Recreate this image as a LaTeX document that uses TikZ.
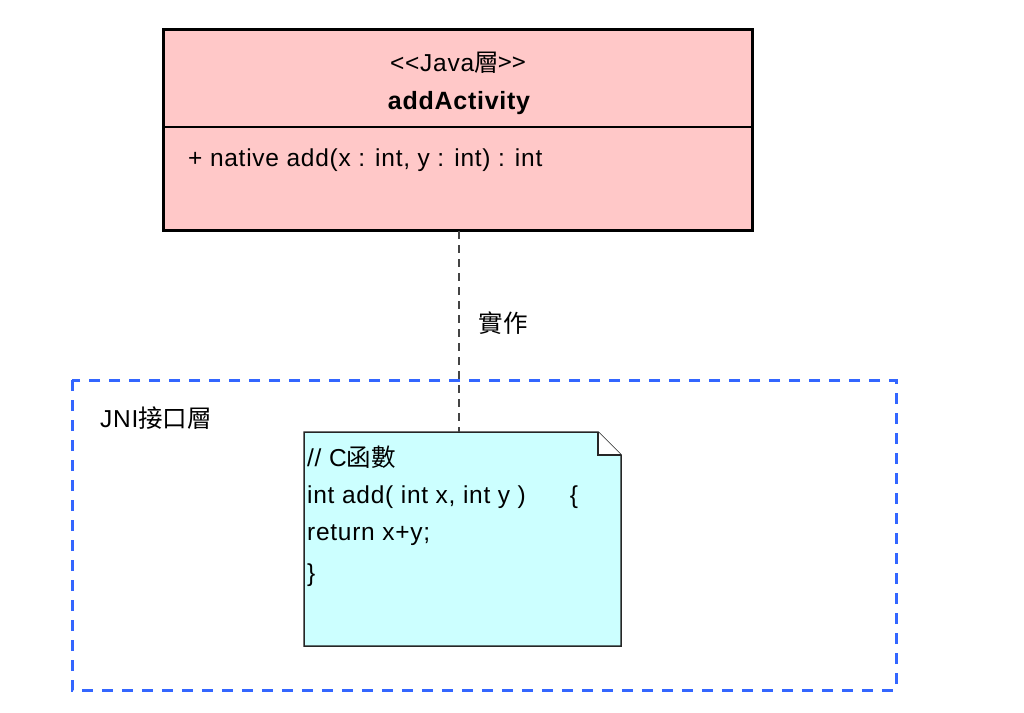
\documentclass[tikz,border=0pt]{standalone}
\usepackage{fontspec}
\setmainfont{Liberation Sans}[LetterSpace=3]
\newfontfamily\cjk{Noto Sans CJK TC}
\definecolor{classpink}{HTML}{FFC8C8}
\definecolor{notecyan}{HTML}{CCFFFF}
\definecolor{pkgblue}{HTML}{3366FF}
\definecolor{depgray}{HTML}{444444}
\tikzset{
  txt/.style={inner sep=0pt, font=\fontsize{24.5}{28}\selectfont},
  classbox/.style={draw=black, line width=3pt, fill=classpink},
  notebox/.style={draw=black!85, line width=1.5pt, fill=notecyan, line join=miter},
  pkgbox/.style={draw=pkgblue, line width=3pt, dash pattern=on 11pt off 9pt},
  depline/.style={draw=depgray, line width=1.8pt, dash pattern=on 8pt off 6pt},
}
\begin{document}
\begin{tikzpicture}[x=1pt,y=-1pt]
\useasboundingbox (0,0) rectangle (1024,712);
% package
\draw[pkgbox] (72,380) rectangle (896,690);
\node[txt, anchor=west] (pkglabel) at (100,418) {JNI\cjk{接口層}};
% class
\draw[classbox] (163,29) rectangle (752,230);
\draw[line width=1.5pt] (163,127) -- (752,127);
\node[txt] (stereo) at (458,63) {{<}{<}Java\cjk{層}{>}{>}};
\node[txt, font=\fontsize{25}{28}\selectfont\bfseries] (cname) at (459,103) {addActivity};
\node[txt, anchor=west] (method) at (188,160) {+ native add(x : int, y : int) : int};
\coordinate (classbot) at (459,231);
% note
\draw[notebox] (304,432) -- (598,432) -- (621,455) -- (621,646) -- (304,646) -- cycle;
\draw[notebox, fill=white] (598,432) -- (598,455) -- (621,455);
\coordinate (notetop) at (459,432);
\node[txt, anchor=west] (l1) at (307,457) {// C\cjk{函數}};
\node[txt, anchor=west] (l2) at (307,497) {int add( int x, int y )\hspace{44pt}\{};
\node[txt, anchor=west] (l3) at (307,535) {return x+y;};
\node[txt, anchor=west] (l4) at (307,575) {\}};
% dependency
\draw[depline] (classbot) -- node[pos=0.46, right=19pt, txt] (deplabel) {\cjk{實作}} (notetop);
\end{tikzpicture}
\end{document}
